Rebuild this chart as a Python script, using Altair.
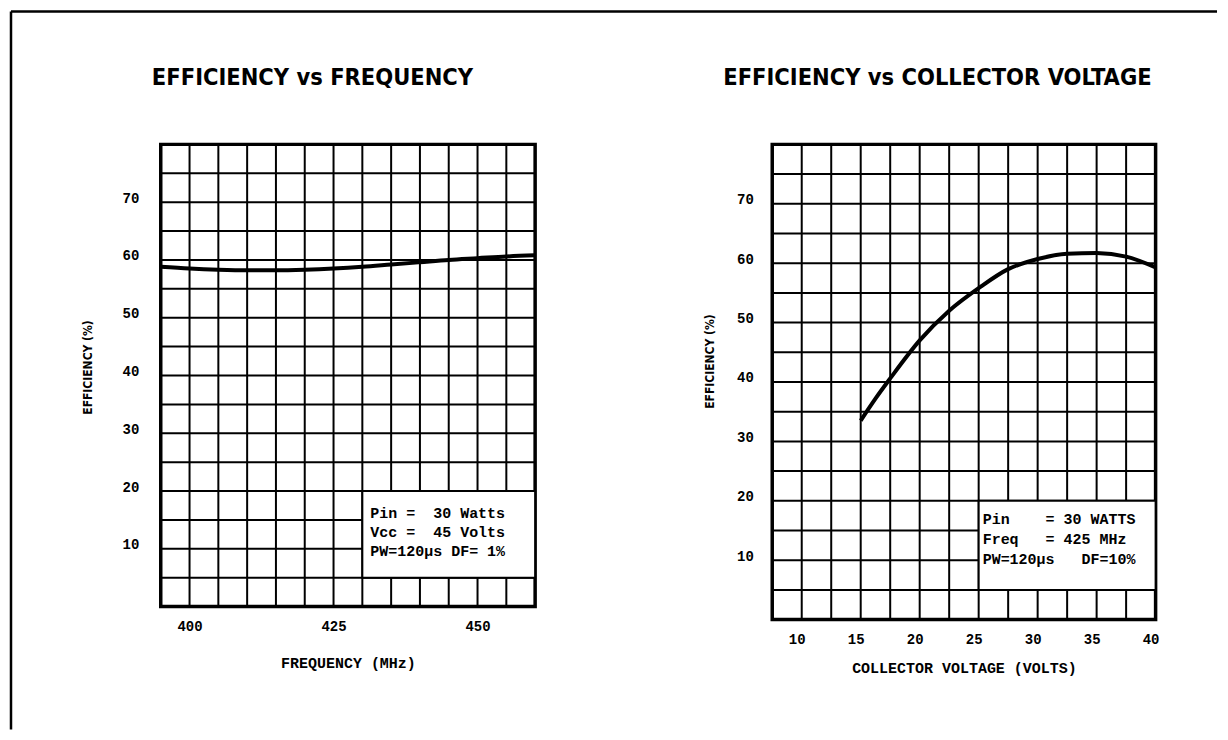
import altair as alt
import pandas as pd

# ---- data ----
freq = [395, 400, 405, 410, 415, 420, 425, 430, 435, 440, 445, 450, 455, 460]
eff_freq = [58.8, 58.5, 58.3, 58.2, 58.2, 58.3, 58.5, 58.8, 59.2, 59.6, 60.0, 60.3, 60.6, 60.8]

volts = [15, 16.25, 17.5, 20, 22.5, 25, 27.5, 30, 32.5, 35, 37.5, 40]
eff_volts = [33.5, 37.2, 40.6, 47.0, 52.0, 55.8, 59.0, 60.7, 61.6, 61.7, 61.1, 59.3]

freq_ticks = [400, 425, 450]
volt_ticks = [10, 15, 20, 25, 30, 35, 40]
eff_ticks = [10, 20, 30, 40, 50, 60, 70]

freq_grid = [400, 405, 410, 415, 420, 425, 430, 435, 440, 445, 450, 455]
volt_grid = [10, 12.5, 15, 17.5, 20, 22.5, 25, 27.5, 30, 32.5, 35, 37.5]
eff_grid = [5, 10, 15, 20, 25, 30, 35, 40, 45, 50, 55, 60, 65, 70, 75]

legend_left = ["Pin =  30 Watts", "Vcc =  45 Volts", "PW=120µs DF= 1%"]
legend_right = ["Pin    = 30 WATTS", "Freq   = 425 MHz", "PW=120µs   DF=10%"]

title_left = "EFFICIENCY vs FREQUENCY"
title_right = "EFFICIENCY vs COLLECTOR VOLTAGE"

MONO = "Liberation Mono, DejaVu Sans Mono, monospace"
NARROW = "Liberation Sans Narrow, DejaVu Sans Condensed, sans-serif"
COND = "DejaVu Sans Condensed, Liberation Sans Narrow, sans-serif"


def keep_spaces(s):
    return s.replace(" ", "\u00a0")


def panel(xname, xvals, yvals, xdomain, xticks, xgrid, xtitle, title, title_x,
          width, height, box, text_pos, lines, line_h, text_dx,
          y_label_pad, y_title_pad, y_title_y, x_title_pad, x_label_offset,
          extra=()):
    xs = alt.Scale(domain=xdomain, nice=False, zero=False)
    ys = alt.Scale(domain=[0, 80], nice=False, zero=False)
    dummy = pd.DataFrame({"k": [0]})

    gx = alt.Chart(pd.DataFrame({xname: xgrid})).mark_rule(
        color="black", strokeWidth=2
    ).encode(x=alt.X(f"{xname}:Q", scale=xs))

    gy = alt.Chart(pd.DataFrame({"eff": eff_grid})).mark_rule(
        color="black", strokeWidth=2
    ).encode(y=alt.Y("eff:Q", scale=ys))

    rect = alt.Chart(dummy).mark_rect(
        fill="white", stroke="black", strokeWidth=2
    ).encode(
        x=alt.X(datum=box[0], type="quantitative", scale=xs),
        x2=alt.X2(datum=box[1]),
        y=alt.Y(datum=box[2], type="quantitative", scale=ys),
        y2=alt.Y2(datum=box[3]),
    )

    txt = alt.Chart(dummy).mark_text(
        align="left", baseline="top", font=MONO, fontWeight="bold",
        fontSize=15, lineBreak="\n", lineHeight=line_h, dx=text_dx, color="black"
    ).encode(
        x=alt.X(datum=text_pos[0], type="quantitative", scale=xs),
        y=alt.Y(datum=text_pos[1], type="quantitative", scale=ys),
        text=alt.value("\n".join(keep_spaces(s) for s in lines)),
    )

    head = alt.Chart(dummy).mark_text(
        align="center", baseline="alphabetic", font=NARROW, fontWeight="bold",
        fontSize=23.5, color="black"
    ).encode(x=alt.value(title_x), y=alt.value(-59), text=alt.value(title))

    df = pd.DataFrame({xname: xvals, "eff": yvals})
    line = alt.Chart(df).mark_line(
        color="black", strokeWidth=4, interpolate="monotone"
    ).encode(
        x=alt.X(f"{xname}:Q", scale=xs, axis=alt.Axis(
            values=xticks, title=xtitle, grid=False, domain=False, ticks=False,
            labelFont=MONO, labelFontSize=14, labelFontWeight="bold", labelColor="black",
            labelPadding=13, labelFlush=False, labelOffset=x_label_offset,
            titleFont=MONO, titleFontSize=15, titleFontWeight="bold", titleColor="black",
            titlePadding=x_title_pad,
        )),
        y=alt.Y("eff:Q", scale=ys, axis=alt.Axis(
            values=eff_ticks, title="EFFICIENCY (%)", grid=False, domain=False, ticks=False,
            labelFont=MONO, labelFontSize=14, labelFontWeight="bold", labelColor="black",
            labelPadding=y_label_pad, labelOffset=-4,
            titleFont=COND, titleFontSize=12, titleFontWeight="bold", titleColor="black",
            titlePadding=y_title_pad, titleY=y_title_y,
        )),
    )

    return alt.layer(gx, gy, rect, txt, line, head, *extra).properties(
        width=width, height=height,
    )


# page border (scanned sheet edge): left and top lines, drawn relative to left plot
page_dummy = pd.DataFrame({"k": [0]})
border_left = alt.Chart(page_dummy).mark_rule(color="black", strokeWidth=2.5).encode(
    x=alt.value(-150), y=alt.value(-133), y2=alt.value(586)
)
border_top = alt.Chart(page_dummy).mark_rule(color="black", strokeWidth=2.5).encode(
    x=alt.value(-150), x2=alt.value(1058), y=alt.value(-133)
)

left = panel("freq", freq, eff_freq, [395, 460], freq_ticks, freq_grid,
             "FREQUENCY (MHz)", title_left, 152,
             375, 463, (430, 460, 5, 20), (430, 17.4), legend_left, 19, 8,
             22, 28, 223, 22, 0, extra=(border_left, border_top))

right = panel("volts", volts, eff_volts, [7.5, 40], volt_ticks, volt_grid,
              "COLLECTOR VOLTAGE (VOLTS)", title_right, 165.5,
              384, 476, (25, 40, 5, 20), (25, 18.1), legend_right, 20, 4,
              19, 20, 217, 14, -5)

chart = alt.hconcat(left, right, spacing=237.5, bounds="flush").properties(
    padding={"left": 0, "top": 0, "right": 0, "bottom": 0},
    background="white",
).configure_view(stroke="black", strokeWidth=3.5)

chart.save("out.html", embed_options={"renderer": "svg", "actions": False})
